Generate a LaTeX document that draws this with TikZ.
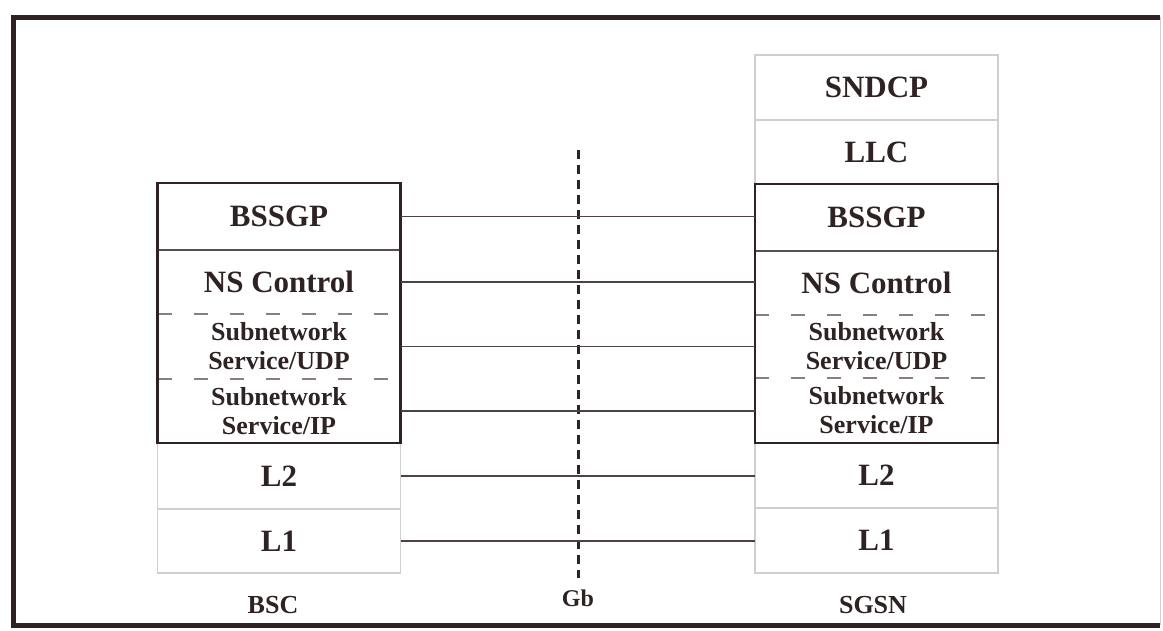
\documentclass[tikz,border=0pt]{standalone}
\usepackage{fontspec}
\setmainfont{Liberation Serif}
\definecolor{ink}{HTML}{2E2222}
\definecolor{lite}{HTML}{CFCFCF}
\definecolor{dashc}{HTML}{8A8080}
\begin{document}
\begin{tikzpicture}[x=1pt,y=-1pt,
  lay/.style={minimum width=243pt,minimum height=#1,inner sep=0pt,outer sep=0pt,text=ink,font=\bfseries\fontsize{31}{34}\selectfont,align=center},
  laysmall/.style={lay=#1,font=\bfseries\fontsize{26}{29}\selectfont},
  graybox/.style={draw=lite,line width=1.2pt},
  mainbox/.style={draw=ink,line width=2.6pt},
  inner/.style={draw=ink!80,line width=1.6pt},
  dashsep/.style={draw=dashc,line width=1.4pt,dash pattern=on 14pt off 22pt},
  link/.style={draw=ink!85,line width=1.8pt},
  gbline/.style={draw=ink,line width=3pt,dash pattern=on 9pt off 6pt},
  lbl/.style={text=ink,font=\bfseries\fontsize{26}{29}\selectfont,inner sep=0pt}]
\useasboundingbox (0,0) rectangle (1163,630);
% frame
\draw[draw=lite,line width=1pt] (1160,17) -- (1160,625);
\draw[draw=ink,line width=5pt] (1160,17) -- (13,17) -- (13,625) -- (1160,625);
% left stack
\node[lay=67pt] (lb) at (279,216.5) {BSSGP};
\node[lay=64pt] (ln) at (279,282) {NS Control};
\node[laysmall=65pt] (lu) at (279,346.5) {Subnetwork\\Service/UDP};
\node[laysmall=64pt] (li) at (279,411) {Subnetwork\\Service/IP};
\node[lay=66pt,graybox] (l2) at (279,476) {L2};
\node[lay=64pt,graybox] (l1) at (279,541) {L1};
% right stack
\node[lay=65pt,graybox] (rs) at (876.5,87.5) {SNDCP};
\node[lay=64pt,graybox] (rl) at (876.5,152) {LLC};
\node[lay=67pt] (rb) at (876.5,217.5) {BSSGP};
\node[lay=64pt] (rn) at (876.5,283) {NS Control};
\node[laysmall=63pt] (ru) at (876.5,346.5) {Subnetwork\\Service/UDP};
\node[laysmall=65pt] (ri) at (876.5,410.5) {Subnetwork\\Service/IP};
\node[lay=65pt,graybox] (r2) at (876.5,475.5) {L2};
\node[lay=65pt,graybox] (r1) at (876.5,540.5) {L1};
% inner separators
\draw[inner] (lb.south west) -- (lb.south east);
\draw[inner] (rb.south west) -- (rb.south east);
\draw[dashsep] (ln.south west) -- (ln.south east);
\draw[dashsep] (lu.south west) -- (lu.south east);
\draw[dashsep] (rn.south west) -- (rn.south east);
\draw[dashsep] (ru.south west) -- (ru.south east);
% main boxes
\draw[mainbox] (lb.north west) rectangle (li.south east);
\draw[mainbox] (rb.north west) rectangle (ri.south east);
% Gb line
\coordinate (gtop) at (578,150);
\coordinate (gbot) at (578,578);
\draw[gbline] (gtop) -- (gbot);
% links
\draw[link] (lb.east) -- (rb.west |- lb.east);
\draw[link] (ln.east) -- (rn.west |- ln.east);
\draw[link] (lu.east) -- (ru.west |- lu.east);
\draw[link] (li.east) -- (ri.west |- li.east);
\draw[link] (l2.east) -- (r2.west |- l2.east);
\draw[link] (l1.east) -- (r1.west |- l1.east);
% labels
\node[lbl] (bsc) at (273,605) {BSC};
\node[lbl,font=\bfseries\fontsize{24}{26}\selectfont] (gb) at (578,598) {Gb};
\node[lbl] (sgsn) at (873,605) {SGSN};
\end{tikzpicture}
\end{document}
